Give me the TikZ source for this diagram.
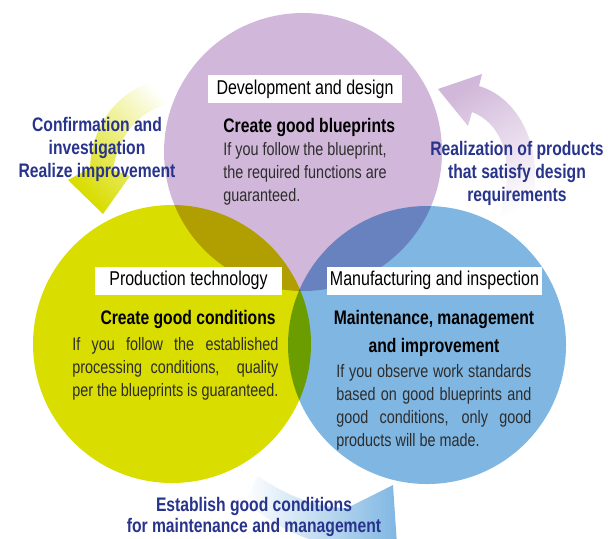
\documentclass[tikz,border=0pt]{standalone}
\usepackage{fontspec}
\setmainfont{Liberation Sans}
\newfontfamily\condfont{Liberation Sans}[FakeStretch=0.8]
\definecolor{devpurple}{RGB}{209,183,217}
\definecolor{prodyellow}{RGB}{217,221,0}
\definecolor{manublue}{RGB}{127,182,226}
\definecolor{flownavy}{RGB}{40,52,140}
\definecolor{bodygray}{RGB}{45,45,45}
\begin{document}
\begin{tikzpicture}
[x=0.5pt, y=-0.5pt,
area/.style={circle, minimum size=139pt, inner sep=0pt},
tag/.style={fill=white, minimum height=14pt, inner sep=0pt, font=\condfont\fontsize{10}{12}\selectfont},
head/.style={font=\condfont\bfseries\fontsize{9.8}{14}\selectfont, inner sep=0pt},
body/.style={font=\condfont\fontsize{9}{11.4}\selectfont, text=bodygray, inner sep=0pt, align=left},
flow/.style={font=\condfont\bfseries\fontsize{9.8}{11.5}\selectfont, text=flownavy, inner sep=0pt, align=center}
]
\useasboundingbox (0,0) rectangle (608,538);

% arrows between the areas
\shade[top color=white, bottom color=prodyellow, shading angle=-45]
    (180,77) .. controls (130,78) and (92,115) .. (90,168) -- (68,180) -- (103,214)
    -- (130,176) -- (113,170) .. controls (118,132) and (145,104) .. (182,102) -- cycle;
\shade[top color=devpurple, bottom color=white, shading angle=30]
    (438,89) -- (482,74) -- (479,86) .. controls (525,100) and (548,160) .. (528,222)
    -- (500,215) .. controls (515,165) and (505,125) .. (472,112) -- (468,126) -- cycle;
\begin{scope}
\clip (0,0) rectangle (608,538);
\shade[left color=white, right color=manublue]
    (258,476) .. controls (290,498) and (320,508) .. (347,508) -- (393,485) -- (398,560)
    -- (372,552) .. controls (320,548) and (275,530) .. (245,500) -- cycle;
\end{scope}

\begin{scope}[blend group=multiply]
\node[area, fill=devpurple] (dev) at (303,152) {};
\node[area, fill=prodyellow] (prod) at (172,344) {};
\node[area, fill=manublue] (manu) at (427,345) {};
\end{scope}

\node[tag, minimum width=97pt] (devtag) at (305,89) {Development and design};
\node[tag, minimum width=93.5pt] (prodtag) at (188.5,280.5) {Production technology};
\node[tag, minimum width=107.5pt] (manutag) at (434.5,280.5) {Manufacturing and inspection};

% base is the last line of a node
\node[head, anchor=base west] (devhead) at (223,132) {Create good blueprints};
\node[body, anchor=base west] (devbody) at (223,201)
    {If you follow the blueprint,\\the required functions are\\guaranteed.};

\node[head, anchor=base east] (prodhead) at (276,324) {Create good conditions};
\node[body, anchor=base west] (prodbody) at (72,396)
    {\makebox[103pt][s]{If you follow the established}\\
     \makebox[103pt][s]{processing conditions,\ \ quality}\\
     \makebox[103pt][s]{per the blueprints is guaranteed.}};

\node[head, align=center, anchor=base] (manuhead) at (434,352)
    {Maintenance, management\\and improvement};
\node[body, anchor=base west] (manubody) at (336,446)
    {\makebox[97.5pt][s]{If you observe work standards}\\
     \makebox[97.5pt][s]{based on good blueprints and}\\
     \makebox[97.5pt][s]{good conditions, only good}\\
     products will be made.};

\node[flow, anchor=base] (checkflow) at (97,177)
    {Confirmation and\\investigation\\Realize improvement};
\node[flow, anchor=base] (designflow) at (517,201)
    {Realization of products\\that satisfy design\\requirements};
\node[flow, anchor=base, font=\condfont\bfseries\fontsize{9.8}{10.2}\selectfont] (keepflow) at (254,532)
    {Establish good conditions\\for maintenance and management};
\end{tikzpicture}
\end{document}
